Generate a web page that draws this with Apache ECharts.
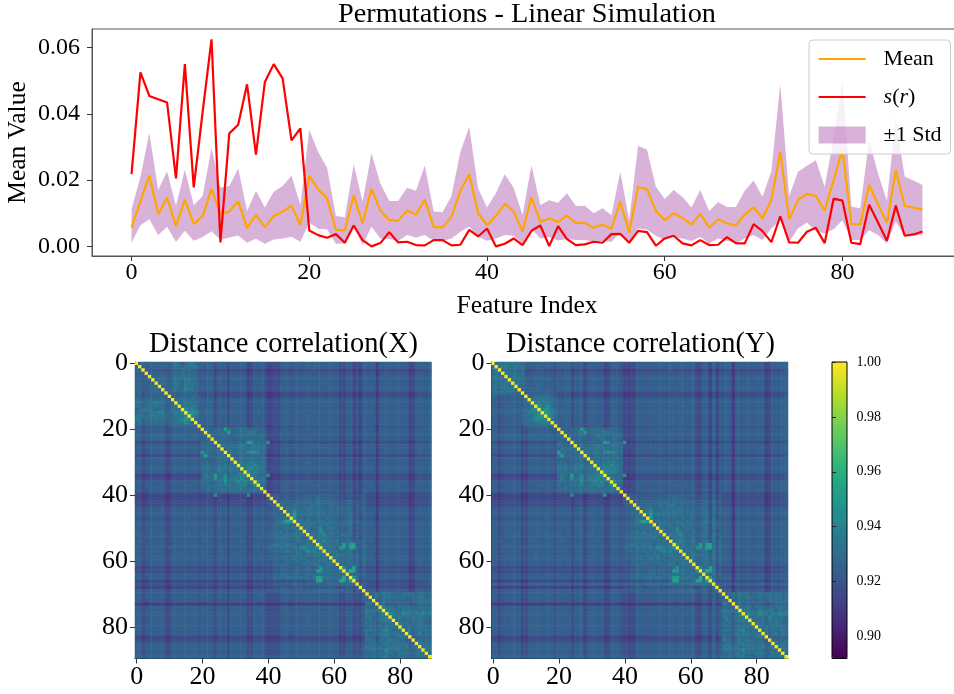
<!DOCTYPE html>
<html><head><meta charset="utf-8">
<style>html,body{margin:0;padding:0;background:#fff}#c{width:954px;height:694px}</style>
<script src="https://cdn.jsdelivr.net/npm/echarts@6/dist/echarts.min.js"></script>
</head><body><div id="c"></div>
<script>
const meanValues=[.0057,.0135,.0214,.0097,.0147,.0061,.0141,.0068,.0091,.0173,.0097,.0105,.0136,.0055,.0095,.0058,.0092,.0105,.0123,.0064,.0213,.0172,.0145,.005,.0049,.0154,.0069,.0173,.0108,.0079,.0077,.0108,.0096,.0141,.0058,.0058,.0089,.0168,.0218,.01,.0064,.0092,.0129,.0105,.0045,.0148,.0074,.0084,.0074,.0093,.0071,.0071,.0056,.0066,.0053,.0135,.0042,.018,.0172,.0107,.0079,.01,.0086,.0066,.0098,.0057,.0081,.007,.0063,.0096,.0118,.0084,.014,.0285,.0082,.014,.0159,.0152,.0108,.02,.0292,.0068,.0066,.0185,.0127,.0071,.023,.0122,.0117,.0111];
const srValues=[.0218,.0525,.0454,.0444,.0434,.0205,.055,.0178,.0406,.0625,.0012,.0341,.0367,.0489,.0277,.0496,.055,.0507,.032,.0356,.0048,.0034,.0026,.0037,.0011,.0063,.0019,0,.001,.0043,.0012,.0014,.0004,.0003,.0019,.0019,.0003,.0005,.005,.003,.0054,0,.0008,.0024,.0004,.0047,.0063,.0001,.0061,.0022,.0004,.0006,.0014,.0011,.0037,.0038,.0011,.0047,.0043,.0002,.0024,.0032,.0009,.0003,.0019,.0004,.0005,.0028,.001,.0009,.0067,.0046,.0013,.0091,.0012,.0011,.0044,.0056,.001,.0144,.0138,.0011,.0007,.0126,.0072,.0017,.0123,.0032,.0036,.0045];
const upperValues=[.0112,.021,.0343,.017,.0227,.0122,.0232,.0124,.0152,.0297,.0178,.0182,.0235,.0107,.0168,.0117,.0165,.0182,.0213,.0125,.0351,.0285,.0237,.0092,.0088,.0248,.0135,.0282,.019,.0137,.0137,.0177,.0168,.0244,.0105,.0103,.0152,.0285,.036,.0175,.0117,.016,.0218,.0177,.0095,.0245,.0125,.0139,.0132,.016,.0122,.0123,.01,.0115,.0094,.0225,.0079,.0303,.0292,.018,.0143,.017,.0149,.0117,.017,.0107,.0134,.0119,.0119,.0168,.0199,.015,.0227,.049,.0152,.0225,.0243,.026,.018,.0326,.0501,.012,.0115,.0321,.022,.0138,.0386,.021,.0199,.0185];
const lowerValues=[.0011,.0064,.0082,.0034,.0059,.0013,.0047,.0017,.0028,.0046,.0019,.0027,.0033,.0011,.0023,.0008,.0021,.0024,.0029,.0014,.0072,.0053,.0052,.0008,.0009,.0059,.0004,.0059,.0024,.0022,.0016,.0034,.0027,.0034,.0017,.0016,.0024,.0044,.0059,.0029,.0017,.0024,.0034,.0032,.0009,.0054,.0024,.0028,.0018,.0022,.0019,.0019,.0014,.0016,.0014,.0042,.0009,.0054,.0051,.0032,.0019,.0029,.0024,.0016,.0028,.0009,.0024,.0017,.0009,.0024,.0034,.0019,.0054,.0079,.0014,.0054,.0072,.0046,.0039,.0052,.0079,.0019,.0019,.0049,.0034,.0009,.0074,.0031,.0032,.0034];
const lineTicks=[0,20,40,60,80];
const meanTicks=[0,0.02,0.04,0.06];
const heatTicks=[0,20,40,60,80];
const barTicks=[0.90,0.92,0.94,0.96,0.98,1.00];
// upper triangle of each matrix, one row per feature, cells left of the diagonal mirrored.
// each character is one estimated colour level (see levelValues)
const rowsX=[
"665656565 5787568965 5566355535 5565235554 2233555455 5565555655 5533552425 5551555555 5552355556",
"55565656 5687678885 5566355535 5555235554 2233555455 5555655555 5533552425 5551555555 5552355556",
"4445443 3565767653 3344133313 3333013332 0011333233 3333433333 3311330203 3330333333 3330133334",
"556545 4667867764 4455244424 4444124443 1122444344 4444444544 4422441314 4440444444 4441244445",
"65665 5787878775 5566355535 5555235554 2233555455 5555565555 5533552425 5551555555 5552355556",
"5766 5687789765 5566355535 5655235554 2233555455 5655555555 5533552425 5551555555 5552355556",
"576 5798688875 5566355535 5555235564 2233555455 5555555655 5533552425 5551555655 5552355556",
"56 5687697765 5566355535 5555235554 2233555455 5555555555 5533552425 5551555555 5552355556",
"5 5786798865 5566355535 5555235554 2233655455 5565555555 5533552425 5551555555 5552355556",
"4555566553 3344133313 3333013332 0011333233 3333333333 3311330203 3330333333 3330133334",
"555566664 3344133313 3333013332 0011333233 3333334333 3311330203 3330333333 3330133334",
"67877866 5566355535 5555235554 2233555455 5555555555 5533552425 5551555555 5552355556",
"7798776 5566355535 5655235554 2233555455 5555655555 5533552425 5551555555 5552355556",
"788986 5566355535 5555235554 2233555455 5555555565 5533552425 5551555555 5552355556",
"a8a86 5666355635 5555235554 2233555455 5655555555 5533552425 5551555555 5552355556",
"aba6 5666355535 5555235654 2233555455 5555555555 5533562425 5551555555 5552355556",
"a86 5566355535 5555235554 2233555555 5565555555 5533552425 5551555555 5552355556",
"76 5566355535 5555235554 2233555455 5555565555 5533552425 5551555555 5552355556",
"5 5566355535 5555235554 2233555455 5555555555 5533552425 5551555555 5552355556",
"4455244424 4444124443 1122444344 4444444444 4422441314 4440444444 4441244445",
"665676c76 6787667765 2233555455 5565555655 5533552425 5551555555 5552355556",
"665677c6 6777887665 2233555455 5555655555 5533552425 5551555555 5552355556",
"6667765 6787767786 2333655455 5555555555 5533552425 5551555555 5552355556",
"567665 5667666765 2233555455 5655555555 5533552425 5551555555 5552355556",
"66656 5666cb6766 b011333233 3333333333 3311330203 3330333333 3330133334",
"7867 7898678876 2233555465 5555565555 5533552425 5551555555 5552355556",
"677 7788787877 2233555455 5555555655 5533552425 5551555555 5552355556",
"78 7987abb977 2233655455 5655555555 5533552425 5551555555 5552355556",
"6 5676566765 0011333233 3333333333 3311330203 3330333333 3330133334",
"7787887786 2233555455 5555555555 5533552425 5551555555 5552355556",
"887798877 2233555455 5565555555 5533562425 5551555555 5552355556",
"8898a887 2233555555 5555555565 5533552425 5551555555 5552355556",
"89a8986 2233555455 5555655555 5533552425 5551555555 5552355556",
"a8a977 2233555455 5555555555 5533552425 5551555555 5552355556",
"87666 b011333233 3333333333 3311330203 3330333333 3330133334",
"8776 0011333233 3333333333 3311330203 3330333333 3330133334",
"a87 2233555455 5655555555 5533552425 5551555555 5552355556",
"76 2233555455 5555565555 5533552425 5551555555 5552355556",
"6 2233555455 5555555555 5533552425 5551555555 5552355556",
"1122444344 4444444444 4422441314 4440444444 4441244445",
"444454445 4555556555 5533552425 3330333333 3330133334",
"45455445 5655576555 4433442324 3330333333 3330133334",
"5666566 6677586766 6644673536 3330333333 3330133334",
"665676 6767786666 6644663535 3330333333 3330133334",
"67787 6878778767 6766783647 5551555555 5552355556",
"78b7 7687787767 6755773546 5551555555 5552355556",
"6c7 7878687866 7655683536 5551555555 5552355556",
"b6 7576676676 6644673635 4440444444 4441244445",
"7 8787678768 7656784746 5551555555 5552355556",
"6878767786 7666773646 5551555555 5552355556",
"78677a678 7645683646 5551555555 5552355556",
"7667a867 6755673536 5551555555 5552355556",
"7878a76 7666773646 5551555555 5552355556",
"687876 6755763636 5551555555 5552355556",
"78a87 7855784647 5551555555 5552355556",
"a787 786c7cc547 5551555555 5552355556",
"877 76bb7cc647 5551555555 5552355556",
"78 8766784647 5551555555 5552355556",
"7 7877785747 5551555555 5552355556",
"7866785747 5551555555 5552355556",
"766775747 5551555555 5552355556",
"66775737 5551555555 5552355556",
"a66c625 3330333333 3330133334",
"7dc635 3330333333 3330133334",
"76757 5551555555 5552355556",
"c746 5551555555 5552355556",
"623 3330333333 3330133334",
"46 4440444444 4441244445",
"5 3330333333 3330133334",
"5551555555 5552355556",
"568697867 6877868767",
"67687886 7866778867",
"4687667 6765778878",
"574554 5553356666",
"97886 8786768787",
"98876 9878868787",
"997 8a98698a89",
"87 8786978786",
"7 7676878766",
"8786778866",
"778678787",
"78687887",
"7579687",
"455565",
"57667",
"8787",
"787",
"78",
"7",
""
];
const rowsY=[
"887888787 5555665554 5566355535 5555235554 2233555455 5565555655 5533552625 5551555555 5552355556",
"88987878 5555656554 5566355535 5555235554 2233555455 5555655555 5533552625 5551555555 5552355556",
"6777767 3333443332 3344133313 3333013332 0011333233 3333433333 3311330303 3330333333 3330133334",
"878878 4444554443 4455244424 4444124443 1122444344 4444444544 4422441514 4440444444 4441244445",
"78877 5556665554 5566355535 5555235554 2233555455 5555565555 5533552625 5551555555 5552355556",
"8787 5555665654 5566355535 5655235554 2233555455 5655555555 5533552625 5551555555 5552355556",
"887 5556665555 5566355535 5555235564 2233555455 5555555655 5533552625 5551555655 5552355556",
"76 5555665554 5566355535 5555235554 2233555455 5555555555 5533552625 5551555555 5552355556",
"6 5555655554 5566355535 5555235554 2233655455 5565555555 5533552625 5551555555 5552355556",
"4555556553 3344133313 3333013332 0011333233 3333333333 3311330303 3330333333 3330133334",
"666767664 3344133313 3333013332 0011333233 3333334333 3311330303 3330333333 3330133334",
"77897876 5566355535 5555235554 2233555455 5555555555 5533552625 5551555555 5552355556",
"8a88876 5566355535 5655235554 2233555455 5555655555 5533552625 5551555555 5552355556",
"a99a76 5566355535 5555235554 2233555455 5555555565 5533552625 5551555555 5552355556",
"aba87 5666355635 5555235554 2233555455 5655555555 5533552625 5551555555 5552355556",
"ba97 5666355535 5555235654 2233555455 5555555555 5533562625 5551555555 5552355556",
"a97 5566355535 5555235554 2233555555 5565555555 5533552625 5551555555 5552355556",
"86 5566355535 5555235554 2233555455 5555565555 5533552625 5551555555 5552355556",
"7 5566355535 5555235554 2233555455 5555555555 5533552625 5551555555 5552355556",
"4455244424 4444124443 1122444344 4444444444 4422441514 4440444444 4441244445",
"665676c76 6787667765 2233555455 5565555655 5533552625 5551555555 5552355556",
"665687c6 6777887665 2233555455 5555655555 5533552625 5551555555 5552355556",
"6667865 6797767786 2333655455 5555555555 5533552625 5551555555 5552355556",
"567665 5667666765 2233555455 5655555555 5533552625 5551555555 5552355556",
"66656 5666cb6766 b011333233 3333333333 3311330303 3330333333 3330133334",
"7867 7898678876 2233555465 5555565555 5533552625 5551555555 5552355556",
"677 7888787877 2233555455 5555555655 5533552625 5551555555 5552355556",
"78 7987abb977 2233655455 5655555555 5533552625 5551555555 5552355556",
"6 5676566765 0011333233 3333333333 3311330303 3330333333 3330133334",
"7787887786 2233555455 5555555555 5533552625 5551555555 5552355556",
"887798877 2233555455 5565555555 5533562625 5551555555 5552355556",
"8898a887 2233555555 5555555565 5533552625 5551555555 5552355556",
"89a8986 2233555455 5555655555 5533552625 5551555555 5552355556",
"a8a977 2233555455 5555555555 5533552625 5551555555 5552355556",
"87666 b011333233 3333333333 3311330303 3330333333 3330133334",
"8776 0011333233 3333333333 3311330303 3330333333 3330133334",
"a87 2233555455 5655555555 5533552625 5551555555 5552355556",
"76 2233555455 5555565555 5533552625 5551555555 5552355556",
"6 2233555455 5555555555 5533552625 5551555555 5552355556",
"1122444344 4444444444 4422441514 4440444444 4441244445",
"444454445 4555556555 5533552625 3330333333 3330133334",
"45455445 5655576555 4433442524 3330333333 3330133334",
"5666566 6677586766 6644673736 3330333333 3330133334",
"665676 6767786666 6644663735 3330333333 3330133334",
"67787 6878778767 6766783847 5551555555 5552355556",
"78b7 7687787767 6755773746 5551555555 5552355556",
"6c7 7878687866 7655683736 5551555555 5552355556",
"b6 7576676676 6644673835 4440444444 4441244445",
"7 8787678768 7656784846 5551555555 5552355556",
"6878767786 7666773846 5551555555 5552355556",
"78677a678 7645683846 5551555555 5552355556",
"7667a867 6755673736 5551555555 5552355556",
"7878a76 7666773846 5551555555 5552355556",
"687876 6755763836 5551555555 5552355556",
"78a87 7855784847 5551555555 5552355556",
"a787 786c7cc747 5551555555 5552355556",
"877 76bb7cc847 5551555555 5552355556",
"78 8766784847 5551555555 5552355556",
"7 7877785847 5551555555 5552355556",
"7866785847 5551555555 5552355556",
"766775847 5551555555 5552355556",
"66775837 5551555555 5552355556",
"a66c825 3330333333 3330133334",
"7dc835 3330333333 3330133334",
"76857 5551555555 5552355556",
"c846 5551555555 5552355556",
"823 3330333333 3330133334",
"66 6664666666 6664566667",
"5 3330333333 3330133334",
"5551555555 5552355556",
"568697867 6877868767",
"67687886 7866778867",
"4687667 6765778878",
"574554 5553356666",
"97886 8786768787",
"98876 9878868787",
"997 8a98698a89",
"87 8786978786",
"7 7676878766",
"8786778866",
"778678787",
"78687887",
"7579687",
"455565",
"57667",
"8787",
"787",
"78",
"7",
""
];
const levelChars="0123456789abcde";
const levelValues=[.909,.912,.915,.918,.922,.925,.928,.931,.934,.938,.942,.946,.952,.958,.962];
const cats=Array.from({length:90},(_,i)=>String(i));
function cells(rows){
  const out=[];
  rows.forEach((r,i)=>{
    const s=r.replace(/ /g,'');
    out.push([i,i,1]);
    for(let k=0;k<s.length;k++){const j=i+1+k;if(j>89)break;const v=levelValues[levelChars.indexOf(s[k])];out.push([j,i,v],[i,j,v]);}
  });
  return out;
}
const serif="'Liberation Serif','Times New Roman',serif";
const viridis=['#440154','#482475','#414487','#355f8d','#2a788e','#21918c','#22a884','#44bf70','#7ad151','#bddf26','#fde725'];
const ink='#000';
const frame='#555';
function heatX(g){return {type:'category',gridIndex:g,data:cats,
  axisLine:{show:true,lineStyle:{color:ink,width:1}},
  axisTick:{show:true,alignWithLabel:true,length:5,lineStyle:{color:'#333'},customValues:heatTicks},
  axisLabel:{fontFamily:serif,fontSize:26,color:ink,margin:6,customValues:heatTicks},splitLine:{show:false}};}
function heatY(g){return {type:'category',gridIndex:g,data:cats,inverse:true,
  axisLine:{show:true,lineStyle:{color:ink,width:1}},
  axisTick:{show:true,alignWithLabel:true,length:5,lineStyle:{color:'#333'},customValues:heatTicks},
  axisLabel:{fontFamily:serif,fontSize:26,color:ink,margin:7,customValues:heatTicks},splitLine:{show:false}};}
function bandShape(params,api){
  if(params.dataIndex!==0) return null;
  const top=upperValues.map((v,i)=>api.coord([i,v]));
  const low=lowerValues.map((v,i)=>api.coord([i,v])).reverse();
  return {type:'polygon',shape:{points:top.concat(low)},style:{fill:'rgba(128,0,128,0.3)',stroke:null}};
}
const legendLine={color:'transparent',borderWidth:0};
const option={
  animation:false,backgroundColor:'#fff',
  title:[
    {text:'Permutations - Linear Simulation',left:522,top:-4,textAlign:'center',textStyle:{fontFamily:serif,fontSize:28.3,fontWeight:'normal',color:ink}},
    {text:'Distance correlation(X)',left:278.5,top:326,textAlign:'center',textStyle:{fontFamily:serif,fontSize:28.4,fontWeight:'normal',color:ink}},
    {text:'Distance correlation(Y)',left:635.5,top:326,textAlign:'center',textStyle:{fontFamily:serif,fontSize:28.4,fontWeight:'normal',color:ink}}
  ],
  grid:[
    {left:92,top:29,width:870,height:227,show:true,borderColor:frame,borderWidth:1,backgroundColor:'transparent',outerBoundsMode:'none'},
    {left:135,top:362,width:296.5,height:296.5,outerBoundsMode:'none'},
    {left:491.5,top:362,width:296.5,height:296.5,outerBoundsMode:'none'},
    {left:832,top:362,width:15,height:296.5,show:true,borderColor:ink,borderWidth:1,backgroundColor:'transparent',z:6,outerBoundsMode:'none'}
  ],
  xAxis:[
    {type:'value',gridIndex:0,min:-4.45,max:93.45,name:'Feature Index',nameLocation:'middle',nameGap:37,
     nameTextStyle:{fontFamily:serif,fontSize:25.5,color:ink},
     axisLine:{show:true,onZero:false,lineStyle:{color:frame}},axisTick:{show:true,length:5,lineStyle:{color:'#333'},customValues:lineTicks},
     axisLabel:{fontFamily:serif,fontSize:24,color:ink,margin:5,customValues:lineTicks},splitLine:{show:false}},
    heatX(1),heatX(2),
    {type:'value',gridIndex:3,min:0,max:1,show:false}
  ],
  yAxis:[
    {type:'value',gridIndex:0,min:-0.0029,max:0.0656,name:'Mean Value',nameLocation:'middle',nameGap:61,nameMoveOverlap:false,
     nameTextStyle:{fontFamily:serif,fontSize:25.5,color:ink},
     axisLine:{show:true,onZero:false,lineStyle:{color:frame}},axisTick:{show:true,length:5,lineStyle:{color:'#333'},customValues:meanTicks},
     axisLabel:{fontFamily:serif,fontSize:24,color:ink,margin:12,customValues:meanTicks,formatter:v=>v===0?'0.00':v.toFixed(2)},splitLine:{show:false}},
    heatY(1),heatY(2),
    {type:'value',gridIndex:3,min:0.892,max:1,position:'right',z:6,
     axisLine:{show:false},axisTick:{show:true,length:4,lineStyle:{color:'#222'},customValues:barTicks},
     axisLabel:{fontFamily:serif,fontSize:14,color:ink,margin:9.5,customValues:barTicks,formatter:v=>v.toFixed(2)},splitLine:{show:false}}
  ],
  legend:{left:809,top:40,orient:'vertical',align:'left',itemWidth:47,itemHeight:17,itemGap:16,padding:[8,9,8,8.5],
    backgroundColor:'rgba(255,255,255,0.8)',borderColor:'#ccc',borderWidth:1,borderRadius:4,
    data:[{name:'Mean',itemStyle:legendLine,lineStyle:{color:'#ffa500',width:2.2}},{name:'s(r)',itemStyle:legendLine,lineStyle:{color:'#ff0000',width:2.2}},{name:'±1 Std',icon:'rect',itemStyle:{color:'rgba(128,0,128,0.3)',borderWidth:0}}],
    formatter:n=>n==='s(r)'?'{i|s}{t|(}{i2|r}{t|)}':'{m|'+n+'}',
    textStyle:{fontFamily:serif,fontSize:22,color:ink,rich:{
      m:{fontFamily:serif,fontSize:22,color:ink,padding:[0,0,0,13]},
      i:{fontFamily:serif,fontSize:22,fontStyle:'italic',color:ink,padding:[0,0,0,13]},
      i2:{fontFamily:serif,fontSize:22,fontStyle:'italic',color:ink},
      t:{fontFamily:serif,fontSize:22,color:ink}}}},
  visualMap:{type:'continuous',min:0.892,max:1,seriesIndex:[3,4],left:832,top:362,itemWidth:15,itemHeight:296.5,padding:0,
    calculable:false,hoverLink:false,realtime:false,text:null,showLabel:false,show:true,inRange:{color:viridis},z:4},
  series:[
    {name:'Mean',type:'line',xAxisIndex:0,yAxisIndex:0,symbol:'none',color:'#ffa500',lineStyle:{color:'#ffa500',width:2.2},data:meanValues.map((v,i)=>[i,v]),z:3},
    {name:'s(r)',type:'line',xAxisIndex:0,yAxisIndex:0,symbol:'none',color:'#ff0000',lineStyle:{color:'#ff0000',width:2.2},data:srValues.map((v,i)=>[i,v]),z:3},
    {name:'±1 Std',type:'custom',xAxisIndex:0,yAxisIndex:0,color:'#800080',renderItem:bandShape,encode:{x:0,y:[1,2]},silent:true,z:2,
     data:upperValues.map((v,i)=>[i,lowerValues[i],v])},
    {type:'heatmap',xAxisIndex:1,yAxisIndex:1,data:cells(rowsX),progressive:0,animation:false},
    {type:'heatmap',xAxisIndex:2,yAxisIndex:2,data:cells(rowsY),progressive:0,animation:false}
  ]
};
const chart=echarts.init(document.getElementById('c'),null,{renderer:'canvas'});
chart.setOption(option);
</script></body></html>
